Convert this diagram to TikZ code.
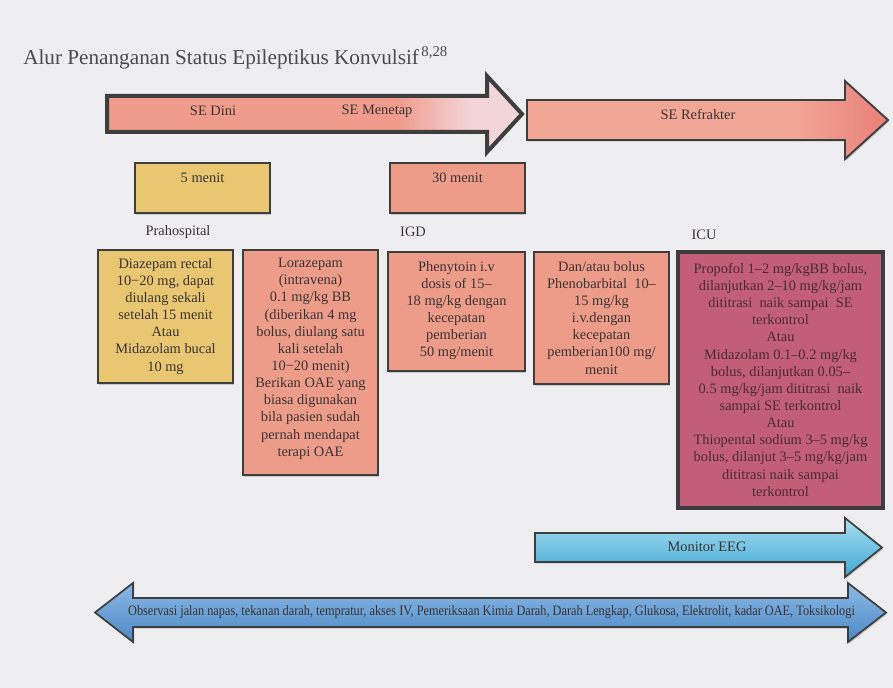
\documentclass[tikz,border=0pt]{standalone}
\usepackage{fontspec}
\setmainfont{Liberation Serif}
\usetikzlibrary{shadows}
\definecolor{bg}{HTML}{EEEEF1}
\definecolor{salm}{HTML}{F09C8C}
\definecolor{pinkl}{HTML}{F3D6DA}
\definecolor{salmtwo}{HTML}{F2A696}
\definecolor{redtwo}{HTML}{E8807A}
\definecolor{khaki}{HTML}{E8C672}
\definecolor{boxsal}{HTML}{EE9C8A}
\definecolor{icu}{HTML}{C25E78}
\definecolor{edge}{HTML}{3E3E3E}
\definecolor{ink}{HTML}{3A3434}
\definecolor{icuink}{HTML}{4A2C34}
\definecolor{titlec}{HTML}{4A4A4A}
\definecolor{cyanl}{HTML}{A8E0F0}
\definecolor{cyand}{HTML}{40A6D4}
\definecolor{bluel}{HTML}{8CBAE4}
\definecolor{blued}{HTML}{4C88C6}
\pgfdeclarehorizontalshading{arrowone}{100bp}{color(0bp)=(salm); color(25bp)=(salm); color(60bp)=(salm); color(69bp)=(pinkl); color(100bp)=(pinkl)}
\pgfdeclarehorizontalshading{arrowtwo}{100bp}{color(0bp)=(salmtwo); color(25bp)=(salmtwo); color(62bp)=(salmtwo); color(75bp)=(redtwo); color(100bp)=(redtwo)}
\tikzset{
  txt/.style={font=\fontsize{10.8}{12.85}\selectfont, text=ink, align=center, inner sep=0pt},
  shad/.style={drop shadow={shadow xshift=1pt, shadow yshift=-1.2pt, opacity=0.35}},
  kbox/.style={draw=edge, line width=1.4pt, fill=khaki, shad},
  sbox/.style={draw=edge, line width=1.8pt, fill=boxsal, shad},
  ibox/.style={draw=edge, line width=3.5pt, fill=icu, shad},
  arr/.style={draw=edge, line join=miter, shad},
}
\begin{document}
\begin{tikzpicture}[x=0.75pt, y=-0.75pt]
\useasboundingbox (0,0) rectangle (893,688);
\fill[bg] (0,0) rectangle (893,688);

% title
\node[anchor=base west, inner sep=0pt, font=\fontsize{15.9}{19}\selectfont, text=titlec] (title) at (23,65)
  {Alur Penanganan Status Epileptikus Konvulsif\textsuperscript{\,8,28}};

% top arrows
\path[arr, line width=3pt, shading=arrowone]
  (107,96) -- (487,96) -- (487,76) -- (522,114) -- (487,152) -- (487,132) -- (107,132) -- cycle;
\node[txt] (sedini) at (213,111) {SE Dini};
\node[txt] (semenetap) at (377,111) {SE Menetap};

\path[arr, line width=1.4pt, shading=arrowtwo]
  (527,100) -- (845,100) -- (845,81) -- (888,120) -- (845,159) -- (845,140) -- (527,140) -- cycle;
\node[txt] (serefr) at (698,115) {SE Refrakter};

% time boxes
\draw[kbox, line width=1.2pt] (135,163) rectangle (270,213);
\node[txt] (t5) at (202.5,178) {5 menit};
\draw[sbox, line width=1.2pt] (390,163) rectangle (525,213);
\node[txt] (t30) at (457.5,178) {30 menit};

% location labels
\node[txt] (praho) at (178,232) {Prahospital};
\node[txt] (igd) at (413,232) {IGD};
\node[txt] (icu) at (704,235) {ICU};

% therapy boxes
\draw[kbox] (98,250) rectangle (233,383);
\node[txt, anchor=north] (tdiaz) at (165.5,258)
  {Diazepam rectal\\10−20 mg, dapat\\diulang sekali\\setelah 15 menit\\Atau\\Midazolam bucal\\10 mg};

\draw[sbox] (243,250) rectangle (378,475);
\node[txt, anchor=north] (tlora) at (310.5,258)
  {Lorazepam\\(intravena)\\0.1 mg/kg BB\\(diberikan 4 mg\\bolus, diulang satu\\kali setelah\\10−20 menit)\\Berikan OAE yang\\biasa digunakan\\bila pasien sudah\\pernah mendapat\\terapi OAE};

\draw[sbox] (388,252) rectangle (525,371);
\node[txt, anchor=north] (tphen) at (456.5,261)
  {Phenytoin i.v\\dosis of 15–\\18 mg/kg dengan\\kecepatan\\pemberian\\50 mg/menit};

\draw[sbox] (534,252) rectangle (669,384);
\node[txt, anchor=north] (tpheno) at (601.5,261)
  {Dan/atau bolus\\Phenobarbital\ \ 10–\\15 mg/kg\\i.v.dengan\\kecepatan\\pemberian100 mg/\\menit};

\draw[ibox] (678,252) rectangle (883,508);
\node[txt, text=icuink, anchor=north] (ticu) at (780.5,263)
  {Propofol 1–2 mg/kgBB bolus,\\dilanjutkan 2–10 mg/kg/jam\\dititrasi\ \ naik sampai\ \ SE\\terkontrol\\Atau\\Midazolam 0.1–0.2 mg/kg\\bolus, dilanjutkan 0.05–\\0.5 mg/kg/jam dititrasi\ \ naik\\sampai SE terkontrol\\Atau\\Thiopental sodium 3–5 mg/kg\\bolus, dilanjut 3–5 mg/kg/jam\\dititrasi naik sampai\\terkontrol};

% monitor EEG arrow
\path[arr, line width=1.3pt, top color=cyanl, bottom color=cyand]
  (535,533) -- (845,533) -- (845,518) -- (882,547.5) -- (845,577) -- (845,562) -- (535,562) -- cycle;
\node[txt] (eeg) at (707,547) {Monitor EEG};

% bottom double arrow
\path[arr, line width=1.3pt, top color=bluel, bottom color=blued]
  (95,612.5) -- (133,583) -- (133,598) -- (848,598) -- (848,583) -- (886,612.5) -- (848,642) -- (848,627) -- (133,627) -- (133,642) -- cycle;
\node[txt] (obs) at (491.5,612)
  {\resizebox{545pt}{\height}{Observasi jalan napas, tekanan darah, tempratur, akses IV, Pemeriksaan Kimia Darah, Darah Lengkap, Glukosa, Elektrolit, kadar OAE, Toksikologi}};
\end{tikzpicture}
\end{document}
